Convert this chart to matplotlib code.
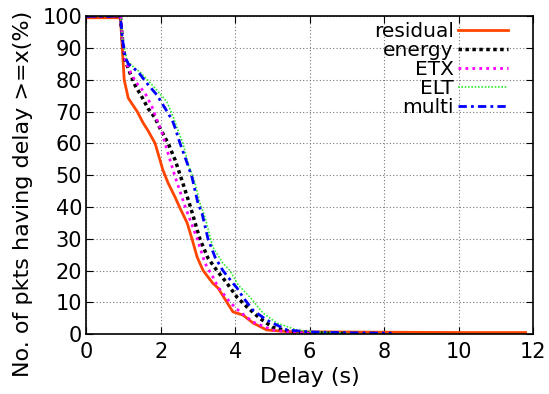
# delay CCDF of packets for five routing metrics
import matplotlib
matplotlib.use("Agg")
import matplotlib.pyplot as plt

# delay (s) and % of pkts with delay >= x
residual_x = [0, 0.92, 0.97, 1.02, 1.13, 1.37, 1.53, 1.66, 1.85, 2.06, 2.2, 2.39, 2.52, 2.71,
              2.84, 2.98, 3.14, 3.4, 3.54, 3.78, 3.94, 4.21, 4.48, 4.85, 5.39, 6.0, 8.0, 10.0, 11.8]
residual_y = [99.5, 99.5, 90, 80, 74.2, 70, 66.4, 64, 60, 51.6, 47.5, 43, 39.6, 35,
              30, 24.2, 20, 16, 14.5, 10, 7, 6, 3.5, 1.3, 0.8, 0.7, 0.6, 0.5, 0.5]

energy_x = [0, 0.92, 0.97, 1.05, 1.18, 1.31, 1.5, 1.66, 1.85, 1.98, 2.2, 2.39, 2.57, 2.8,
            3.05, 3.27, 3.51, 3.78, 4.05, 4.32, 4.66, 5.0, 5.55, 6.2, 7.0]
energy_y = [100, 100, 93, 86, 82, 78.3, 74.5, 71, 68, 64.8, 60, 54.7, 48.4, 40,
            30, 23.9, 20, 16, 11.6, 8.5, 5, 2.2, 0.6, 0.3, 0.2]

etx_x = [0, 0.92, 0.97, 1.05, 1.2, 1.35, 1.58, 1.77, 1.93, 2.04, 2.17, 2.39, 2.66, 2.82,
         2.98, 3.19, 3.4, 3.54, 3.86, 4.13, 4.48, 5.0, 5.5, 6.0]
etx_y = [100, 100, 93, 86, 82, 79, 75.8, 71.4, 66.4, 63.2, 57.9, 49.4, 40, 35,
         30, 22.3, 18, 14.8, 10, 7, 3.8, 1.3, 0.6, 0.3]

elt_x = [0, 0.92, 0.97, 1.1, 1.31, 1.45, 1.9, 2.17, 2.33, 2.5, 2.6, 2.75, 2.9, 3.06,
         3.19, 3.4, 3.67, 3.86, 4.08, 4.4, 4.75, 5.12, 5.66, 6.2, 7.0]
elt_y = [100, 100, 93, 86, 83.6, 82.4, 76.7, 73, 68.5, 63, 60, 53, 48.5, 41,
         36.8, 27.4, 22.3, 20, 15.5, 11.6, 6.6, 3.5, 1.3, 0.6, 0.3]

multi_x = [0, 0.92, 0.97, 1.05, 1.13, 1.4, 1.63, 1.9, 2.12, 2.31, 2.39, 2.52, 2.71, 2.84,
           3.0, 3.11, 3.27, 3.46, 3.67, 3.94, 4.05, 4.21, 4.48, 4.85, 5.39, 6.0, 7.0, 8.2]
multi_y = [100, 100, 93, 87, 85, 82.4, 78.9, 75.2, 71, 67.3, 64.8, 60, 53.8, 49.4,
           41.2, 38, 30, 24.2, 20, 16, 14.5, 11.6, 7.5, 4.4, 1.3, 0.7, 0.4, 0.3]

x_ticks = [0, 2, 4, 6, 8, 10, 12]
y_ticks = list(range(0, 101, 10))

plt.rcParams["font.family"] = ["DejaVu Sans"]

fig = plt.figure(figsize=(5.49, 3.94), dpi=100)
ax = fig.add_axes([0.157, 0.152, 0.814, 0.807])

ax.plot(residual_x, residual_y, color="#ff4500", lw=2, label="residual")
ax.plot(energy_x, energy_y, color="black", lw=2.5, ls=(0, (1, 1)), label="energy")
ax.plot(etx_x, etx_y, color="#ff00ff", lw=2, ls=(0, (1, 1.5)), label="ETX")
ax.plot(elt_x, elt_y, color="#33ee33", lw=1.2, ls=(0, (1, 1)), label="ELT")
ax.plot(multi_x, multi_y, color="#0000ff", lw=2, ls=(0, (3, 1.5, 1, 1.5)), label="multi")

ax.set_xlim(0, 12)
ax.set_ylim(0, 100)
ax.set_xticks(x_ticks)
ax.set_yticks(y_ticks)
ax.grid(True, color="#777777", ls=(0, (1, 2)), lw=0.8)
ax.tick_params(direction="in", top=True, right=True, length=5, labelsize=15)
ax.tick_params(axis="x", pad=6)
ax.tick_params(axis="y", pad=3)
for s in ax.spines.values():
    s.set_linewidth(1.2)

ax.set_xlabel("Delay (s)", fontsize=16, labelpad=3)
ax.set_ylabel("No. of pkts having delay >=x(%)", fontsize=16)
# label sits lower than the axes centre in the original
ax.yaxis.set_label_coords(-0.119, 0.44)

ax.legend(loc="upper right", bbox_to_anchor=(0.944, 0.982), frameon=False,
          markerfirst=False, fontsize=14.5, handlelength=2.5, handletextpad=0.2,
          labelspacing=0.0, borderaxespad=0, borderpad=0)

fig.savefig("out.png", dpi=100)
